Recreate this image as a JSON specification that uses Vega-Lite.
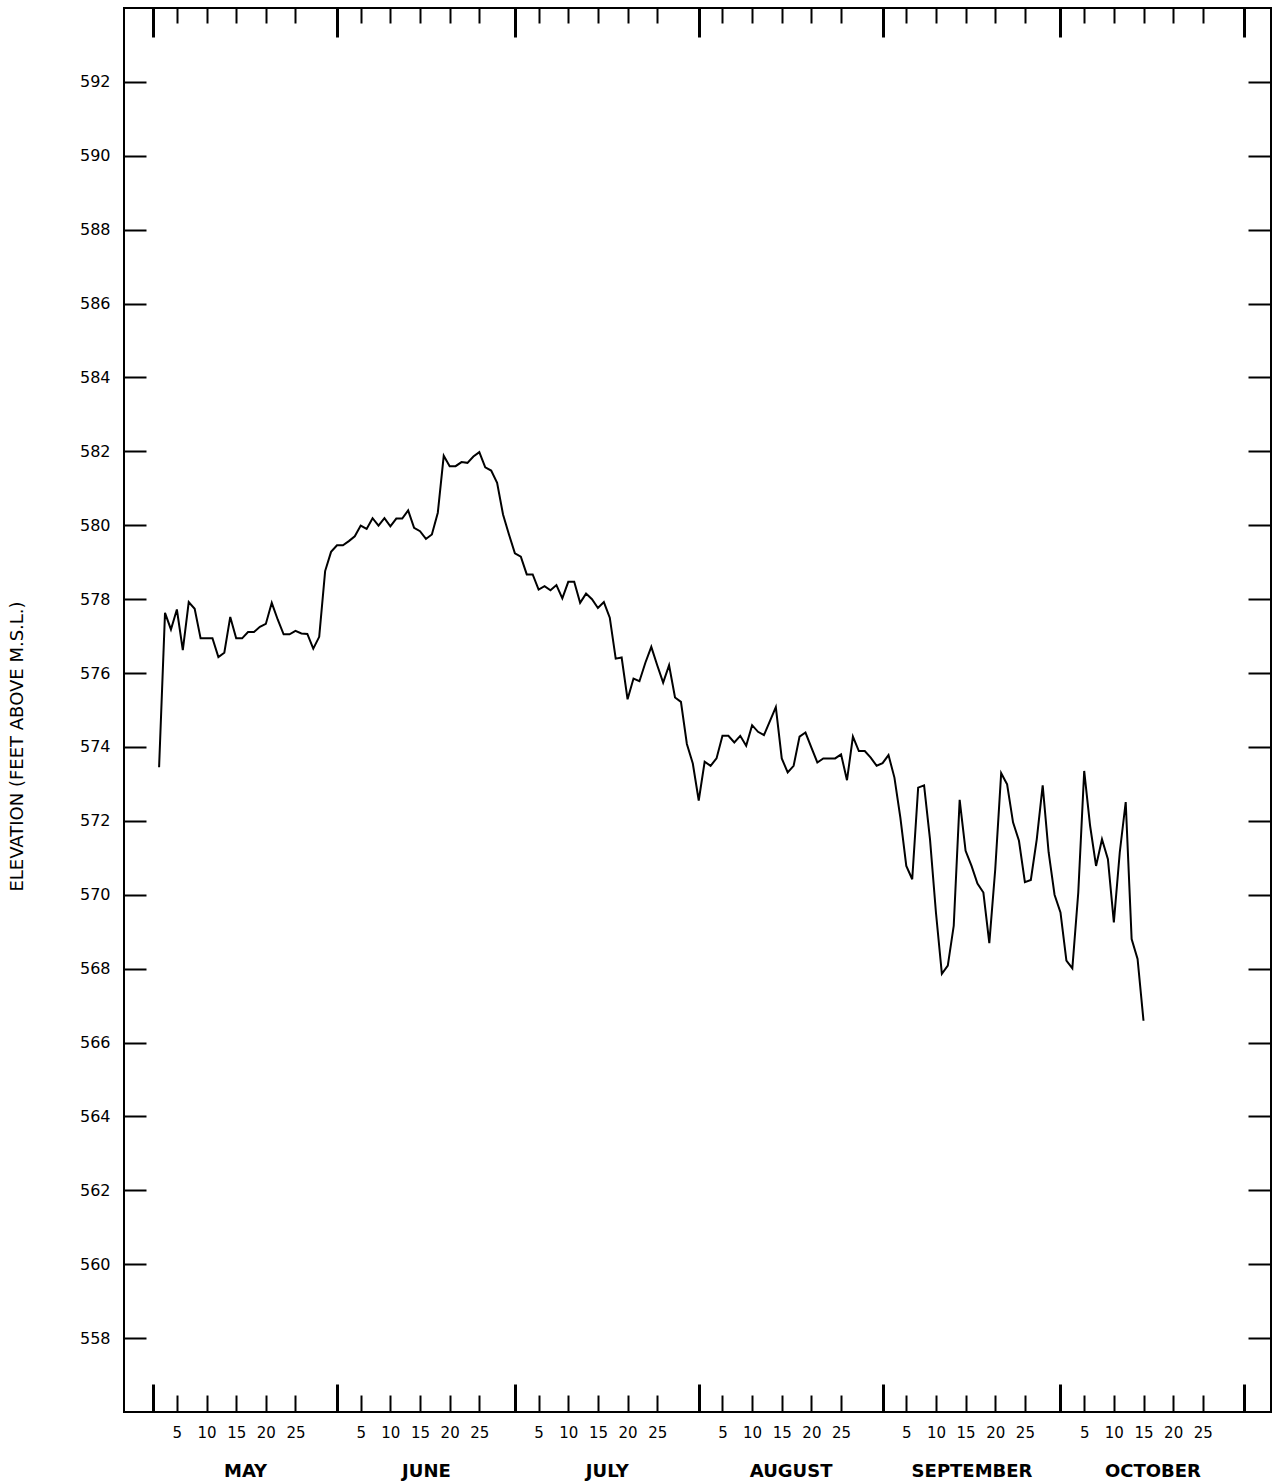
{
  "$schema": "https://vega.github.io/schema/vega-lite/v6.json",
  "width": 1147,
  "height": 1404,
  "autosize": {"type": "none"},
  "padding": {"left": 124, "top": 8, "right": 12, "bottom": 71},
  "background": "white",
  "config": {
    "view": {"stroke": "black", "strokeWidth": 2},
    "axis": {"domain": false, "grid": false, "tickColor": "black", "labelColor": "black", "titleColor": "black", "labelFont": "DejaVu Sans", "titleFont": "DejaVu Sans", "labelOverlap": false, "labelFlush": false}
  },
  "data": {"values": [
    {"date": "1955-05-02", "elev": 573.45},
    {"date": "1955-05-03", "elev": 577.63},
    {"date": "1955-05-04", "elev": 577.18},
    {"date": "1955-05-05", "elev": 577.72},
    {"date": "1955-05-06", "elev": 576.62},
    {"date": "1955-05-07", "elev": 577.92},
    {"date": "1955-05-08", "elev": 577.74},
    {"date": "1955-05-09", "elev": 576.94},
    {"date": "1955-05-10", "elev": 576.94},
    {"date": "1955-05-11", "elev": 576.94},
    {"date": "1955-05-12", "elev": 576.43},
    {"date": "1955-05-13", "elev": 576.55},
    {"date": "1955-05-14", "elev": 577.52},
    {"date": "1955-05-15", "elev": 576.94},
    {"date": "1955-05-16", "elev": 576.94},
    {"date": "1955-05-17", "elev": 577.11},
    {"date": "1955-05-18", "elev": 577.11},
    {"date": "1955-05-19", "elev": 577.25},
    {"date": "1955-05-20", "elev": 577.33},
    {"date": "1955-05-21", "elev": 577.9},
    {"date": "1955-05-22", "elev": 577.45},
    {"date": "1955-05-23", "elev": 577.05},
    {"date": "1955-05-24", "elev": 577.05},
    {"date": "1955-05-25", "elev": 577.14},
    {"date": "1955-05-26", "elev": 577.07},
    {"date": "1955-05-27", "elev": 577.06},
    {"date": "1955-05-28", "elev": 576.66},
    {"date": "1955-05-29", "elev": 576.98},
    {"date": "1955-05-30", "elev": 578.76},
    {"date": "1955-05-31", "elev": 579.28},
    {"date": "1955-06-01", "elev": 579.46},
    {"date": "1955-06-02", "elev": 579.46},
    {"date": "1955-06-03", "elev": 579.57},
    {"date": "1955-06-04", "elev": 579.7},
    {"date": "1955-06-05", "elev": 579.99},
    {"date": "1955-06-06", "elev": 579.9},
    {"date": "1955-06-07", "elev": 580.19},
    {"date": "1955-06-08", "elev": 579.99},
    {"date": "1955-06-09", "elev": 580.19},
    {"date": "1955-06-10", "elev": 579.97},
    {"date": "1955-06-11", "elev": 580.18},
    {"date": "1955-06-12", "elev": 580.18},
    {"date": "1955-06-13", "elev": 580.4},
    {"date": "1955-06-14", "elev": 579.93},
    {"date": "1955-06-15", "elev": 579.84},
    {"date": "1955-06-16", "elev": 579.63},
    {"date": "1955-06-17", "elev": 579.75},
    {"date": "1955-06-18", "elev": 580.34},
    {"date": "1955-06-19", "elev": 581.88},
    {"date": "1955-06-20", "elev": 581.6},
    {"date": "1955-06-21", "elev": 581.6},
    {"date": "1955-06-22", "elev": 581.71},
    {"date": "1955-06-23", "elev": 581.69},
    {"date": "1955-06-24", "elev": 581.86},
    {"date": "1955-06-25", "elev": 581.98},
    {"date": "1955-06-26", "elev": 581.57},
    {"date": "1955-06-27", "elev": 581.48},
    {"date": "1955-06-28", "elev": 581.15},
    {"date": "1955-06-29", "elev": 580.29},
    {"date": "1955-06-30", "elev": 579.75},
    {"date": "1955-07-01", "elev": 579.24},
    {"date": "1955-07-02", "elev": 579.15},
    {"date": "1955-07-03", "elev": 578.67},
    {"date": "1955-07-04", "elev": 578.67},
    {"date": "1955-07-05", "elev": 578.26},
    {"date": "1955-07-06", "elev": 578.35},
    {"date": "1955-07-07", "elev": 578.24},
    {"date": "1955-07-08", "elev": 578.38},
    {"date": "1955-07-09", "elev": 578.02},
    {"date": "1955-07-10", "elev": 578.47},
    {"date": "1955-07-11", "elev": 578.47},
    {"date": "1955-07-12", "elev": 577.9},
    {"date": "1955-07-13", "elev": 578.15},
    {"date": "1955-07-14", "elev": 578.0},
    {"date": "1955-07-15", "elev": 577.76},
    {"date": "1955-07-16", "elev": 577.92},
    {"date": "1955-07-17", "elev": 577.5},
    {"date": "1955-07-18", "elev": 576.39},
    {"date": "1955-07-19", "elev": 576.42},
    {"date": "1955-07-20", "elev": 575.29},
    {"date": "1955-07-21", "elev": 575.85},
    {"date": "1955-07-22", "elev": 575.78},
    {"date": "1955-07-23", "elev": 576.28},
    {"date": "1955-07-24", "elev": 576.71},
    {"date": "1955-07-25", "elev": 576.21},
    {"date": "1955-07-26", "elev": 575.74},
    {"date": "1955-07-27", "elev": 576.21},
    {"date": "1955-07-28", "elev": 575.34},
    {"date": "1955-07-29", "elev": 575.22},
    {"date": "1955-07-30", "elev": 574.08},
    {"date": "1955-07-31", "elev": 573.55},
    {"date": "1955-08-01", "elev": 572.55},
    {"date": "1955-08-02", "elev": 573.6},
    {"date": "1955-08-03", "elev": 573.49},
    {"date": "1955-08-04", "elev": 573.69},
    {"date": "1955-08-05", "elev": 574.3},
    {"date": "1955-08-06", "elev": 574.3},
    {"date": "1955-08-07", "elev": 574.12},
    {"date": "1955-08-08", "elev": 574.3},
    {"date": "1955-08-09", "elev": 574.03},
    {"date": "1955-08-10", "elev": 574.59},
    {"date": "1955-08-11", "elev": 574.41},
    {"date": "1955-08-12", "elev": 574.32},
    {"date": "1955-08-13", "elev": 574.7},
    {"date": "1955-08-14", "elev": 575.08},
    {"date": "1955-08-15", "elev": 573.69},
    {"date": "1955-08-16", "elev": 573.31},
    {"date": "1955-08-17", "elev": 573.49},
    {"date": "1955-08-18", "elev": 574.28},
    {"date": "1955-08-19", "elev": 574.39},
    {"date": "1955-08-20", "elev": 573.98},
    {"date": "1955-08-21", "elev": 573.58},
    {"date": "1955-08-22", "elev": 573.69},
    {"date": "1955-08-23", "elev": 573.69},
    {"date": "1955-08-24", "elev": 573.69},
    {"date": "1955-08-25", "elev": 573.8},
    {"date": "1955-08-26", "elev": 573.1},
    {"date": "1955-08-27", "elev": 574.28},
    {"date": "1955-08-28", "elev": 573.89},
    {"date": "1955-08-29", "elev": 573.89},
    {"date": "1955-08-30", "elev": 573.71},
    {"date": "1955-08-31", "elev": 573.49},
    {"date": "1955-09-01", "elev": 573.56},
    {"date": "1955-09-02", "elev": 573.78},
    {"date": "1955-09-03", "elev": 573.17},
    {"date": "1955-09-04", "elev": 572.09},
    {"date": "1955-09-05", "elev": 570.78},
    {"date": "1955-09-06", "elev": 570.42},
    {"date": "1955-09-07", "elev": 572.9},
    {"date": "1955-09-08", "elev": 572.96},
    {"date": "1955-09-09", "elev": 571.5},
    {"date": "1955-09-10", "elev": 569.52},
    {"date": "1955-09-11", "elev": 567.86},
    {"date": "1955-09-12", "elev": 568.08},
    {"date": "1955-09-13", "elev": 569.16},
    {"date": "1955-09-14", "elev": 572.57},
    {"date": "1955-09-15", "elev": 571.19},
    {"date": "1955-09-16", "elev": 570.78},
    {"date": "1955-09-17", "elev": 570.3},
    {"date": "1955-09-18", "elev": 570.06},
    {"date": "1955-09-19", "elev": 568.69},
    {"date": "1955-09-20", "elev": 570.69},
    {"date": "1955-09-21", "elev": 573.29},
    {"date": "1955-09-22", "elev": 572.99},
    {"date": "1955-09-23", "elev": 571.96},
    {"date": "1955-09-24", "elev": 571.46},
    {"date": "1955-09-25", "elev": 570.34},
    {"date": "1955-09-26", "elev": 570.4},
    {"date": "1955-09-27", "elev": 571.5},
    {"date": "1955-09-28", "elev": 572.96},
    {"date": "1955-09-29", "elev": 571.15},
    {"date": "1955-09-30", "elev": 570.0},
    {"date": "1955-10-01", "elev": 569.52},
    {"date": "1955-10-02", "elev": 568.22},
    {"date": "1955-10-03", "elev": 568.01},
    {"date": "1955-10-04", "elev": 570.06},
    {"date": "1955-10-05", "elev": 573.35},
    {"date": "1955-10-06", "elev": 571.86},
    {"date": "1955-10-07", "elev": 570.78},
    {"date": "1955-10-08", "elev": 571.5},
    {"date": "1955-10-09", "elev": 570.96},
    {"date": "1955-10-10", "elev": 569.25},
    {"date": "1955-10-11", "elev": 571.15},
    {"date": "1955-10-12", "elev": 572.51},
    {"date": "1955-10-13", "elev": 568.8},
    {"date": "1955-10-14", "elev": 568.26},
    {"date": "1955-10-15", "elev": 566.59}
  ]},
  "resolve": {"axis": {"x": "independent", "y": "independent"}},
  "layer": [
    {
      "mark": {"type": "line", "color": "black", "strokeWidth": 2, "strokeJoin": "miter"},
      "encoding": {
        "x": {"field": "date", "type": "temporal",
          "scale": {"type": "utc", "domain": [{"year": 1955, "month": 4, "date": 26, "hours": 2, "utc": true}, {"year": 1955, "month": 11, "date": 5, "hours": 12, "utc": true}]},
          "axis": {"orient": "bottom", "title": null, "tickSize": -17, "tickWidth": 2, "labelPadding": 30, "labelFontSize": 15, "labelAngle": 0,
            "labelExpr": "utcFormat(datum.value, '%-d')",
            "values": [
              {"year": 1955, "month": 5, "date": 5, "utc": true}, {"year": 1955, "month": 5, "date": 10, "utc": true}, {"year": 1955, "month": 5, "date": 15, "utc": true}, {"year": 1955, "month": 5, "date": 20, "utc": true}, {"year": 1955, "month": 5, "date": 25, "utc": true},
              {"year": 1955, "month": 6, "date": 5, "utc": true}, {"year": 1955, "month": 6, "date": 10, "utc": true}, {"year": 1955, "month": 6, "date": 15, "utc": true}, {"year": 1955, "month": 6, "date": 20, "utc": true}, {"year": 1955, "month": 6, "date": 25, "utc": true},
              {"year": 1955, "month": 7, "date": 5, "utc": true}, {"year": 1955, "month": 7, "date": 10, "utc": true}, {"year": 1955, "month": 7, "date": 15, "utc": true}, {"year": 1955, "month": 7, "date": 20, "utc": true}, {"year": 1955, "month": 7, "date": 25, "utc": true},
              {"year": 1955, "month": 8, "date": 5, "utc": true}, {"year": 1955, "month": 8, "date": 10, "utc": true}, {"year": 1955, "month": 8, "date": 15, "utc": true}, {"year": 1955, "month": 8, "date": 20, "utc": true}, {"year": 1955, "month": 8, "date": 25, "utc": true},
              {"year": 1955, "month": 9, "date": 5, "utc": true}, {"year": 1955, "month": 9, "date": 10, "utc": true}, {"year": 1955, "month": 9, "date": 15, "utc": true}, {"year": 1955, "month": 9, "date": 20, "utc": true}, {"year": 1955, "month": 9, "date": 25, "utc": true},
              {"year": 1955, "month": 10, "date": 5, "utc": true}, {"year": 1955, "month": 10, "date": 10, "utc": true}, {"year": 1955, "month": 10, "date": 15, "utc": true}, {"year": 1955, "month": 10, "date": 20, "utc": true}, {"year": 1955, "month": 10, "date": 25, "utc": true}
            ]}},
        "y": {"field": "elev", "type": "quantitative",
          "scale": {"domain": [556, 594], "nice": false, "zero": false},
          "axis": {"orient": "left", "values": [558, 560, 562, 564, 566, 568, 570, 572, 574, 576, 578, 580, 582, 584, 586, 588, 590, 592],
            "tickSize": -22, "tickWidth": 2, "labelPadding": 36, "labelFontSize": 16,
            "title": "ELEVATION (FEET ABOVE M.S.L.)", "titleFontSize": 18, "titleFontWeight": "normal",
            "titleAngle": 270, "titleX": -107, "titleY": 738, "titleAlign": "center", "titleBaseline": "middle"}}
      }
    },
    {
      "mark": {"type": "point", "opacity": 0},
      "encoding": {
        "x": {"field": "date", "type": "temporal",
          "axis": {"orient": "bottom", "title": null, "tickSize": -28, "tickWidth": 3, "labels": false,
            "values": [{"year": 1955, "month": 5, "date": 1, "utc": true}, {"year": 1955, "month": 6, "date": 1, "utc": true}, {"year": 1955, "month": 7, "date": 1, "utc": true}, {"year": 1955, "month": 8, "date": 1, "utc": true}, {"year": 1955, "month": 9, "date": 1, "utc": true}, {"year": 1955, "month": 10, "date": 1, "utc": true}, {"year": 1955, "month": 11, "date": 1, "utc": true}]}},
        "y": {"field": "elev", "type": "quantitative",
          "axis": {"orient": "right", "title": null, "labels": false, "tickSize": -23, "tickWidth": 2,
            "values": [558, 560, 562, 564, 566, 568, 570, 572, 574, 576, 578, 580, 582, 584, 586, 588, 590, 592]}}
      }
    },
    {
      "mark": {"type": "point", "opacity": 0},
      "encoding": {
        "x": {"field": "date", "type": "temporal",
          "axis": {"orient": "bottom", "title": null, "ticks": false, "labelPadding": 50, "labelFontSize": 18, "labelFontWeight": "bold", "labelAngle": 0,
            "labelExpr": "upper(utcFormat(datum.value, '%B'))",
            "values": [{"year": 1955, "month": 5, "date": 16, "hours": 12, "utc": true}, {"year": 1955, "month": 6, "date": 16, "utc": true}, {"year": 1955, "month": 7, "date": 16, "hours": 12, "utc": true}, {"year": 1955, "month": 8, "date": 16, "hours": 12, "utc": true}, {"year": 1955, "month": 9, "date": 16, "utc": true}, {"year": 1955, "month": 10, "date": 16, "hours": 12, "utc": true}]}}
      }
    },
    {
      "mark": {"type": "point", "opacity": 0},
      "encoding": {
        "x": {"field": "date", "type": "temporal",
          "axis": {"orient": "top", "title": null, "tickSize": -15, "tickWidth": 2, "labels": false,
            "values": [
              {"year": 1955, "month": 5, "date": 5, "utc": true}, {"year": 1955, "month": 5, "date": 10, "utc": true}, {"year": 1955, "month": 5, "date": 15, "utc": true}, {"year": 1955, "month": 5, "date": 20, "utc": true}, {"year": 1955, "month": 5, "date": 25, "utc": true},
              {"year": 1955, "month": 6, "date": 5, "utc": true}, {"year": 1955, "month": 6, "date": 10, "utc": true}, {"year": 1955, "month": 6, "date": 15, "utc": true}, {"year": 1955, "month": 6, "date": 20, "utc": true}, {"year": 1955, "month": 6, "date": 25, "utc": true},
              {"year": 1955, "month": 7, "date": 5, "utc": true}, {"year": 1955, "month": 7, "date": 10, "utc": true}, {"year": 1955, "month": 7, "date": 15, "utc": true}, {"year": 1955, "month": 7, "date": 20, "utc": true}, {"year": 1955, "month": 7, "date": 25, "utc": true},
              {"year": 1955, "month": 8, "date": 5, "utc": true}, {"year": 1955, "month": 8, "date": 10, "utc": true}, {"year": 1955, "month": 8, "date": 15, "utc": true}, {"year": 1955, "month": 8, "date": 20, "utc": true}, {"year": 1955, "month": 8, "date": 25, "utc": true},
              {"year": 1955, "month": 9, "date": 5, "utc": true}, {"year": 1955, "month": 9, "date": 10, "utc": true}, {"year": 1955, "month": 9, "date": 15, "utc": true}, {"year": 1955, "month": 9, "date": 20, "utc": true}, {"year": 1955, "month": 9, "date": 25, "utc": true},
              {"year": 1955, "month": 10, "date": 5, "utc": true}, {"year": 1955, "month": 10, "date": 10, "utc": true}, {"year": 1955, "month": 10, "date": 15, "utc": true}, {"year": 1955, "month": 10, "date": 20, "utc": true}, {"year": 1955, "month": 10, "date": 25, "utc": true}
            ]}}
      }
    },
    {
      "mark": {"type": "point", "opacity": 0},
      "encoding": {
        "x": {"field": "date", "type": "temporal",
          "axis": {"orient": "top", "title": null, "tickSize": -29, "tickWidth": 3, "labels": false,
            "values": [{"year": 1955, "month": 5, "date": 1, "utc": true}, {"year": 1955, "month": 6, "date": 1, "utc": true}, {"year": 1955, "month": 7, "date": 1, "utc": true}, {"year": 1955, "month": 8, "date": 1, "utc": true}, {"year": 1955, "month": 9, "date": 1, "utc": true}, {"year": 1955, "month": 10, "date": 1, "utc": true}, {"year": 1955, "month": 11, "date": 1, "utc": true}]}}
      }
    }
  ]
}
